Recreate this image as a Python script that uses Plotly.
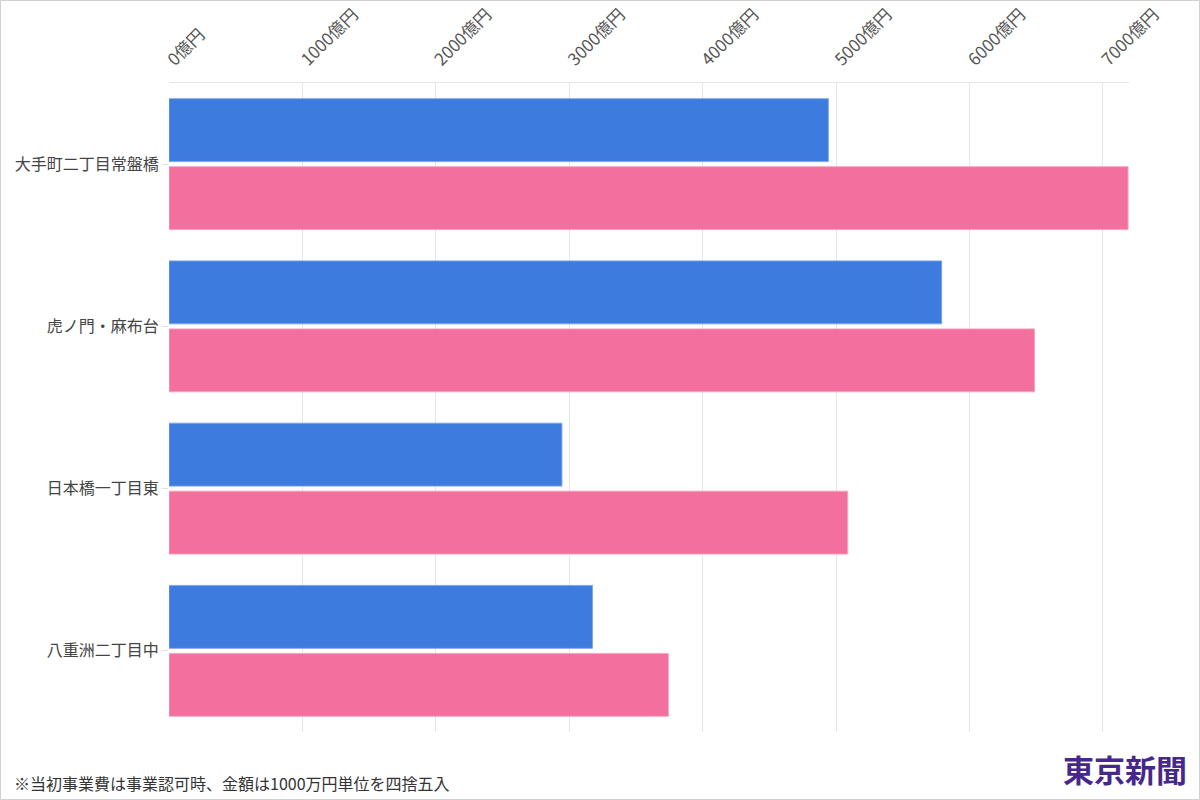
import plotly.graph_objects as go

categories = ["大手町二丁目常盤橋", "虎ノ門・麻布台", "日本橋一丁目東", "八重洲二丁目中"]
initial_cost = [4942, 5791, 2945, 3174]   # 当初事業費(億円)
current_cost = [7188, 6487, 5087, 3743]   # 現在の事業費(億円)
tick_values = [0, 1000, 2000, 3000, 4000, 5000, 6000, 7000]
tick_labels = [f"{v}億円" for v in tick_values]

FONT = "Noto Sans CJK JP"

fig = go.Figure()
fig.add_trace(go.Bar(
    y=categories, x=initial_cost, orientation="h", name="当初事業費",
    marker=dict(color="rgb(52,116,222)", opacity=0.95,
                line=dict(color="rgba(120,160,235,0.9)", width=1)),
))
fig.add_trace(go.Bar(
    y=categories, x=current_cost, orientation="h", name="現在の事業費",
    marker=dict(color="rgb(243,105,153)", opacity=0.95,
                line=dict(color="rgba(248,160,190,0.9)", width=1)),
))

PW, PH = 960, 649
fig.update_layout(
    width=1200, height=800,
    margin=dict(l=169, r=71, t=83, b=68, autoexpand=False),
    paper_bgcolor="white", plot_bgcolor="white",
    barmode="group", bargap=0.162, bargroupgap=0.074,
    showlegend=False,
    font=dict(family=FONT, color="#444"),
    xaxis=dict(
        side="top", range=[0, 7195], automargin=False,
        tickvals=tick_values, ticktext=tick_labels,
        tickangle=-45, tickfont=dict(size=17, color="#555"),
        ticklabelstandoff=6,
        showgrid=True, gridcolor="#e6e6e6", gridwidth=1,
        showline=True, linecolor="#e6e6e6", linewidth=1,
        zeroline=False, ticks="", fixedrange=True,
    ),
    yaxis=dict(
        autorange="reversed", automargin=False,
        tickfont=dict(size=16, color="#444"),
        ticks="outside", ticklen=6, tickcolor="#e0e0e0",
        showgrid=False, zeroline=False, showline=False,
    ),
    shapes=[dict(
        type="rect", xref="paper", yref="paper",
        x0=-169/PW + 0.5/PW, x1=1 + 71/PW - 0.5/PW,
        y0=-68/PH + 0.5/PH, y1=1 + 83/PH - 0.5/PH,
        line=dict(color="#d0d0d0", width=1), fillcolor="rgba(0,0,0,0)",
    )],
    annotations=[
        dict(text="※当初事業費は事業認可時、金額は1000万円単位を四捨五入",
             xref="paper", yref="paper", x=-157/PW, y=-51/PH,
             xanchor="left", yanchor="middle", showarrow=False,
             font=dict(size=16, color="#333", family=FONT)),
        dict(text="<b>東京新聞</b>",
             xref="paper", yref="paper", x=1 + 60/PW, y=-36/PH,
             xanchor="right", yanchor="middle", showarrow=False,
             font=dict(size=31, color="#46288c", family=FONT)),
    ],
)

fig.write_html("out.html", config={"displayModeBar": False},
               post_script="document.body.style.margin='0';document.body.style.padding='0';")
